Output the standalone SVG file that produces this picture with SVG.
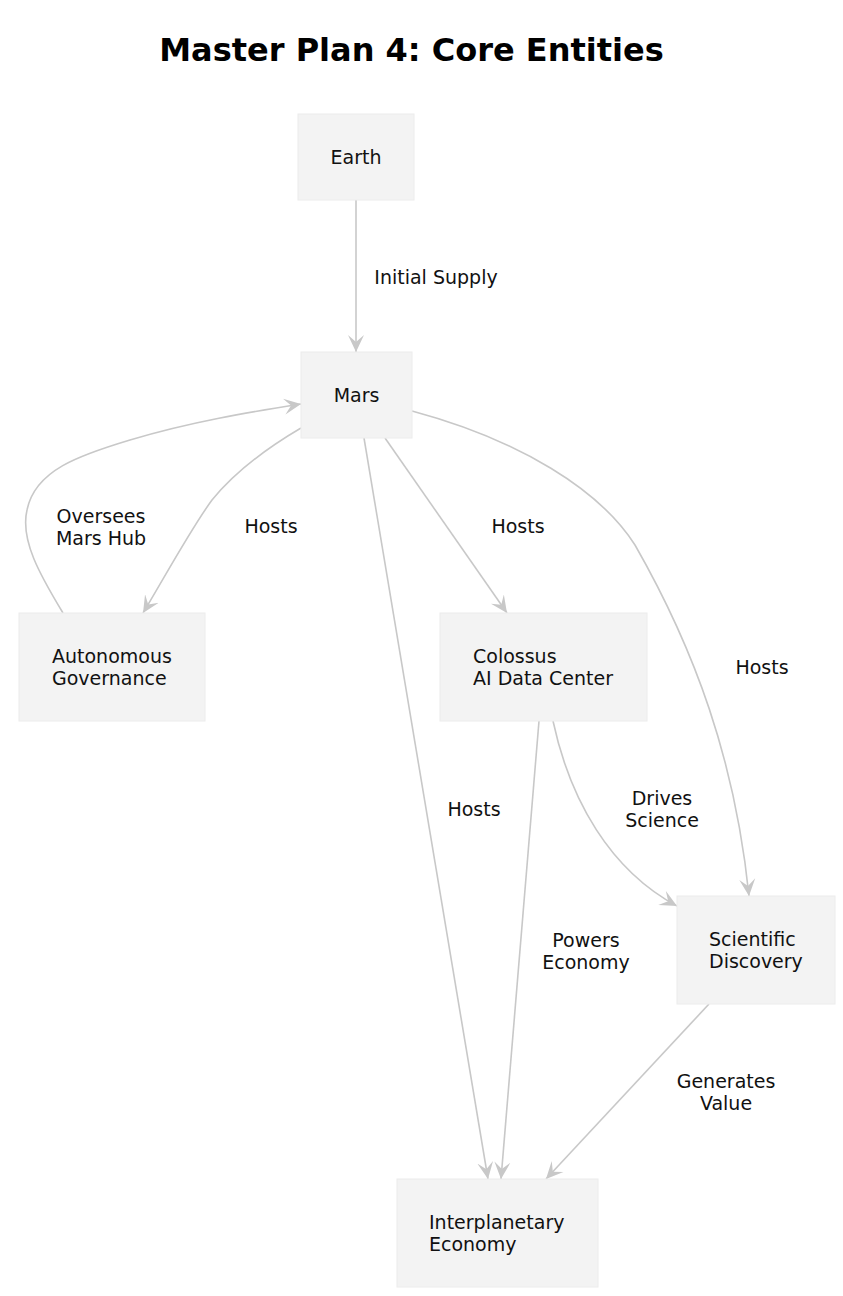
<svg xmlns="http://www.w3.org/2000/svg" width="843" height="1296" viewBox="0 0 843 1296">
<defs>
<style>
.node rect{fill:#f3f3f3;stroke:#ececec;stroke-width:1}
.node text{font-family:"DejaVu Sans",sans-serif;font-size:19px;fill:#111}
.edge{fill:none;stroke:#c8c8c8;stroke-width:1.6}
.lbl{font-family:"DejaVu Sans",sans-serif;font-size:19px;fill:#111;text-anchor:middle}
.title{font-family:"DejaVu Sans",sans-serif;font-size:32px;font-weight:bold;fill:#000;text-anchor:middle}
</style>
<marker id="arr" viewBox="0 0 17 17" refX="17" refY="8.5" markerWidth="17" markerHeight="17" markerUnits="userSpaceOnUse" orient="auto">
<path d="M0,0.5 L17,8.5 L0,16.5 L7,8.5 Z" fill="#c8c8c8"/>
</marker>
</defs>
<rect width="843" height="1296" fill="#fff"/>
<text class="title" x="411.5" y="61">Master Plan 4: Core Entities</text>

<g id="connectors">
<path class="edge" marker-end="url(#arr)" d="M356,200 L356,352"/>
<path class="edge" marker-end="url(#arr)" d="M301,428 C255,455 230,478 212,500 C190,530 162,582 143,613"/>
<path class="edge" marker-end="url(#arr)" d="M63,613 C40,575 20,540 27,510 C35,470 80,455 130,440 C190,422 250,412 301,404"/>
<path class="edge" marker-end="url(#arr)" d="M385,438 L507,613"/>
<path class="edge" marker-end="url(#arr)" d="M412,411 C520,440 600,490 635,545 C695,650 735,760 749,896"/>
<path class="edge" marker-end="url(#arr)" d="M364,438 L488,1179"/>
<path class="edge" marker-end="url(#arr)" d="M539,721 L501,1179"/>
<path class="edge" marker-end="url(#arr)" d="M553,721 C570,800 610,870 677,906"/>
<path class="edge" marker-end="url(#arr)" d="M709,1004 L546,1179"/>
<text class="lbl" x="436" y="284">Initial Supply</text>
<text class="lbl" x="101" y="523">Oversees</text>
<text class="lbl" x="101" y="545">Mars Hub</text>
<text class="lbl" x="271" y="533">Hosts</text>
<text class="lbl" x="518" y="533">Hosts</text>
<text class="lbl" x="762" y="674">Hosts</text>
<text class="lbl" x="474" y="816">Hosts</text>
<text class="lbl" x="662" y="805">Drives</text>
<text class="lbl" x="662" y="827">Science</text>
<text class="lbl" x="586" y="947">Powers</text>
<text class="lbl" x="586" y="969">Economy</text>
<text class="lbl" x="726" y="1088">Generates</text>
<text class="lbl" x="726" y="1110">Value</text>
</g>

<g id="earth" class="node"><rect x="298" y="114" width="116" height="86"/><text x="356" y="164" text-anchor="middle">Earth</text></g>
<g id="mars" class="node"><rect x="301" y="352" width="111" height="86"/><text x="356.5" y="402" text-anchor="middle">Mars</text></g>
<g id="governance" class="node"><rect x="19" y="613" width="186" height="108"/><text x="52" y="663">Autonomous</text><text x="52" y="685">Governance</text></g>
<g id="colossus" class="node"><rect x="440" y="613" width="207" height="108"/><text x="473" y="663">Colossus</text><text x="473" y="685">AI Data Center</text></g>
<g id="science" class="node"><rect x="677" y="896" width="158" height="108"/><text x="709" y="946">Scientific</text><text x="709" y="968">Discovery</text></g>
<g id="economy" class="node"><rect x="397" y="1179" width="201" height="108"/><text x="429" y="1229">Interplanetary</text><text x="429" y="1251">Economy</text></g>
</svg>
